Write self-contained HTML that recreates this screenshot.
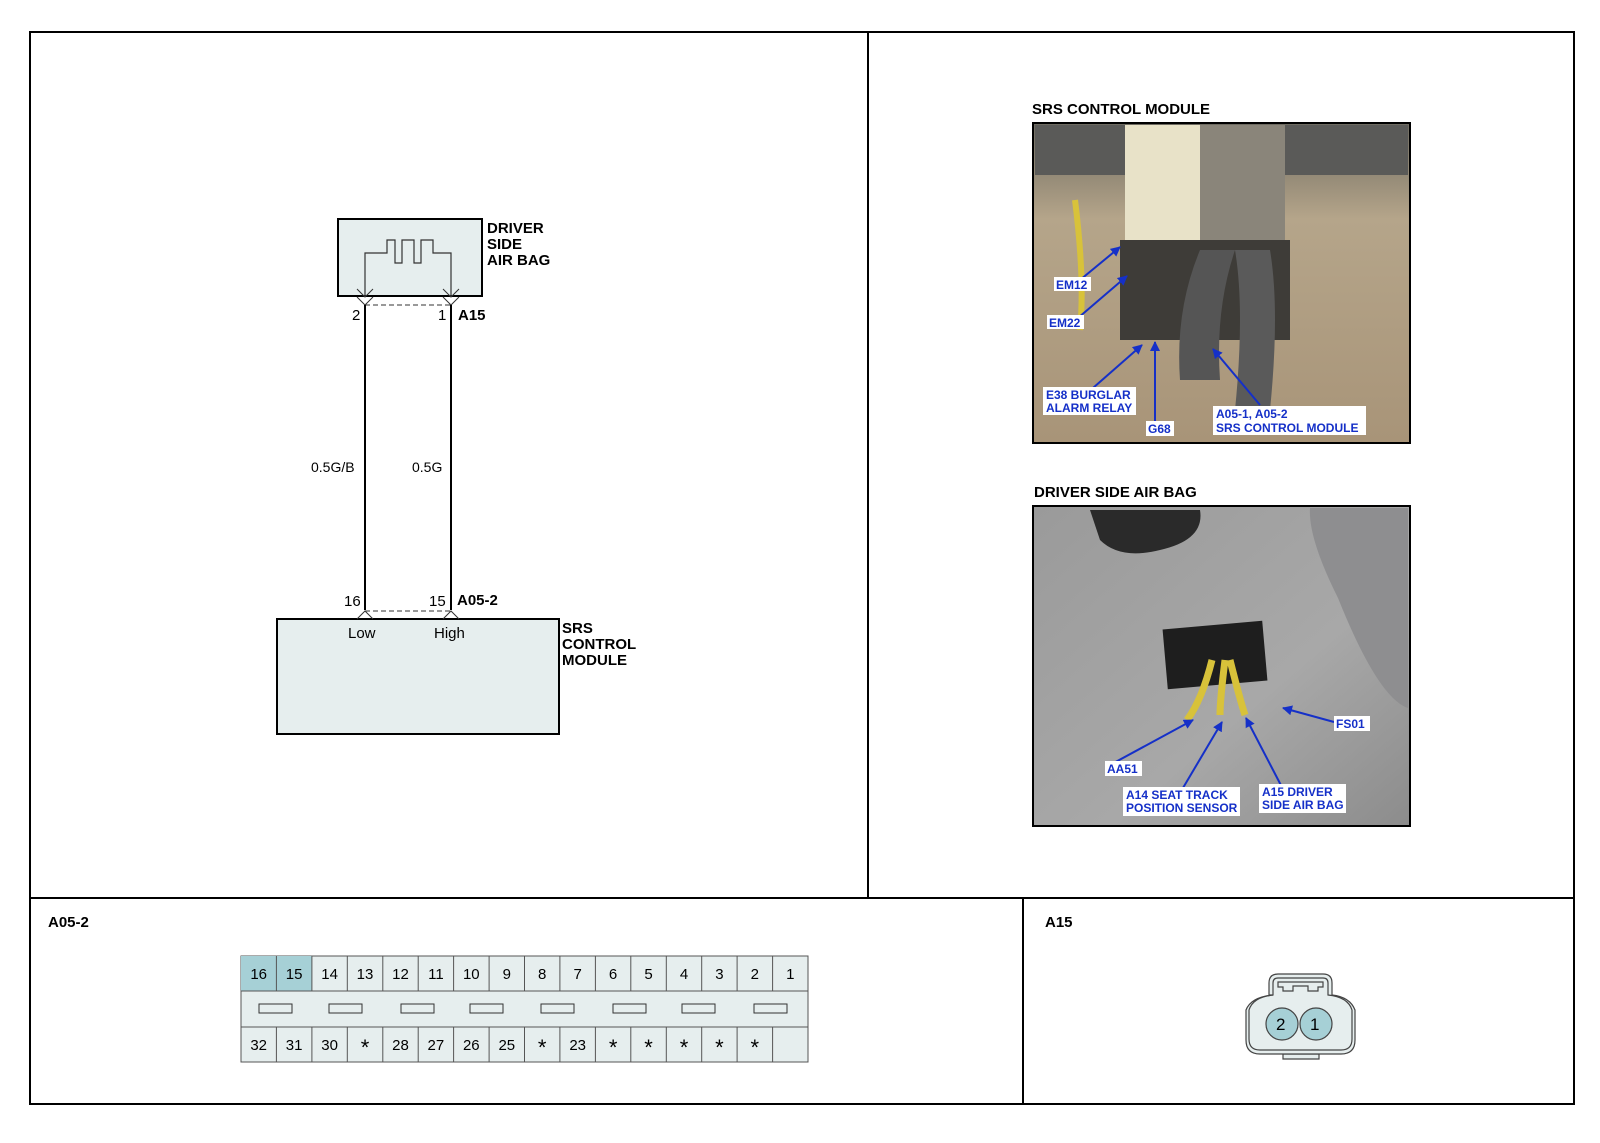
<!DOCTYPE html>
<html><head><meta charset="utf-8"><style>
body{margin:0;background:#fff}
svg{display:block}
text{font-family:"Liberation Sans",Arial,sans-serif}
.b{font-weight:bold}
.pl{font-weight:bold;fill:#1530c8;font-size:12px}
</style></head><body>
<svg width="1600" height="1143" viewBox="0 0 1600 1143" xmlns="http://www.w3.org/2000/svg">
<defs>
<marker id="ar" markerWidth="10" markerHeight="10" refX="9" refY="5" orient="auto" markerUnits="userSpaceOnUse"><path d="M0,0 L10,5 L0,10 z" fill="#1530c8"/></marker>
<linearGradient id="g1" x1="0" y1="0" x2="0" y2="1"><stop offset="0" stop-color="#6d6a60"/><stop offset="0.3" stop-color="#b5a58a"/><stop offset="1" stop-color="#a89478"/></linearGradient>
<linearGradient id="g2" x1="0" y1="0" x2="1" y2="1"><stop offset="0" stop-color="#9a9a9a"/><stop offset="0.6" stop-color="#a8a8a8"/><stop offset="1" stop-color="#8c8c8c"/></linearGradient>
</defs>
<!-- frame -->
<rect x="30" y="32" width="1544" height="1072" fill="none" stroke="#000" stroke-width="2"/>
<line x1="868" y1="32" x2="868" y2="898" stroke="#000" stroke-width="2"/>
<line x1="30" y1="898" x2="1574" y2="898" stroke="#000" stroke-width="2"/>
<line x1="1023" y1="898" x2="1023" y2="1104" stroke="#000" stroke-width="2"/>

<!-- airbag box -->
<rect x="338" y="219" width="144" height="77" fill="#e6eeee" stroke="#000" stroke-width="2"/>
<path d="M365,296 V253 H387 V240 H395 V263 H402 V240 H414 V263 H421 V240 H433 V253 H451 V296" fill="none" stroke="#333" stroke-width="1.2"/>
<path d="M357,289 L365,297 L373,289 M357,297 L365,305 L373,297 M443,289 L451,297 L459,289 M443,297 L451,305 L459,297" fill="none" stroke="#333" stroke-width="1"/>
<line x1="365" y1="305" x2="451" y2="305" stroke="#333" stroke-dasharray="5,3"/>
<text x="487" y="233" class="b" font-size="15">DRIVER</text>
<text x="487" y="249" class="b" font-size="15">SIDE</text>
<text x="487" y="265" class="b" font-size="15">AIR BAG</text>
<text x="352" y="320" font-size="15">2</text>
<text x="438" y="320" font-size="15">1</text>
<text x="458" y="320" class="b" font-size="15">A15</text>
<line x1="365" y1="305" x2="365" y2="610" stroke="#000" stroke-width="2"/>
<line x1="451" y1="305" x2="451" y2="610" stroke="#000" stroke-width="2"/>
<text x="311" y="472" font-size="14">0.5G/B</text>
<text x="412" y="472" font-size="14">0.5G</text>
<text x="344" y="606" font-size="15">16</text>
<text x="429" y="606" font-size="15">15</text>
<text x="457" y="605" class="b" font-size="15">A05-2</text>
<line x1="365" y1="611" x2="451" y2="611" stroke="#333" stroke-dasharray="5,3"/>
<rect x="277" y="619" width="282" height="115" fill="#e6eeee" stroke="#000" stroke-width="2"/>
<path d="M357,619 L365,611 L373,619 M443,619 L451,611 L459,619" fill="none" stroke="#333"/>
<text x="348" y="638" font-size="15">Low</text>
<text x="434" y="638" font-size="15">High</text>
<text x="562" y="633" class="b" font-size="15">SRS</text>
<text x="562" y="649" class="b" font-size="15">CONTROL</text>
<text x="562" y="665" class="b" font-size="15">MODULE</text>

<!-- photo 1 -->
<text x="1032" y="114" class="b" font-size="15">SRS CONTROL MODULE</text>
<rect x="1033" y="123" width="377" height="320" fill="url(#g1)" stroke="#000" stroke-width="2"/>
<rect x="1035" y="125" width="373" height="50" fill="#5a5a58"/>
<rect x="1125" y="125" width="90" height="115" fill="#e8e2c8"/>
<rect x="1200" y="125" width="85" height="115" fill="#8a857a"/>
<rect x="1120" y="240" width="170" height="100" fill="#3e3c38"/>
<path d="M1200,250 q-25,60 -20,130 h40 q-5,-70 15,-130z" fill="#555"/>
<path d="M1235,250 q10,60 0,160 h35 q10,-100 0,-160z" fill="#5a5a5a"/>
<path d="M1075,200 q10,80 5,130" stroke="#d8c23a" stroke-width="6" fill="none"/>
<g stroke="#1530c8" stroke-width="2" marker-end="url(#ar)" fill="none">
<line x1="1080" y1="280" x2="1120" y2="247"/>
<line x1="1078" y1="318" x2="1127" y2="276"/>
<line x1="1085" y1="395" x2="1142" y2="345"/>
<line x1="1155" y1="422" x2="1155" y2="342"/>
<line x1="1260" y1="405" x2="1213" y2="349"/>
</g>
<rect x="1054" y="277" width="37" height="14" fill="#fff"/><text x="1056" y="289" class="pl">EM12</text>
<rect x="1047" y="315" width="37" height="14" fill="#fff"/><text x="1049" y="327" class="pl">EM22</text>
<rect x="1043" y="387" width="93" height="28" fill="#fff"/><text x="1046" y="399" class="pl">E38 BURGLAR</text><text x="1046" y="412" class="pl">ALARM RELAY</text>
<rect x="1146" y="421" width="28" height="15" fill="#fff"/><text x="1148" y="433" class="pl">G68</text>
<rect x="1213" y="406" width="153" height="29" fill="#fff"/><text x="1216" y="418" class="pl">A05-1, A05-2</text><text x="1216" y="432" class="pl">SRS CONTROL MODULE</text>

<!-- photo 2 -->
<text x="1034" y="497" class="b" font-size="15">DRIVER SIDE AIR BAG</text>
<rect x="1033" y="506" width="377" height="320" fill="url(#g2)" stroke="#000" stroke-width="2"/>
<path d="M1310,508 h98 v200 q-30,-10 -70,-110 q-30,-60 -28,-90z" fill="#8e8e90"/>
<path d="M1090,510 h110 q5,30 -40,40 q-40,10 -60,-10z" fill="#2a2a2a"/>
<rect x="1165" y="625" width="100" height="60" fill="#1e1e1e" transform="rotate(-5 1215 655)"/>
<path d="M1212,660 q-10,40 -25,60 M1225,660 q-5,40 -5,55 M1230,660 q10,40 15,55" stroke="#d8c23a" stroke-width="7" fill="none"/>
<g stroke="#1530c8" stroke-width="2" marker-end="url(#ar)" fill="none">
<line x1="1110" y1="765" x2="1193" y2="720"/>
<line x1="1180" y1="793" x2="1222" y2="722"/>
<line x1="1285" y1="793" x2="1246" y2="718"/>
<line x1="1334" y1="722" x2="1283" y2="708"/>
</g>
<rect x="1105" y="761" width="37" height="15" fill="#fff"/><text x="1107" y="773" class="pl">AA51</text>
<rect x="1123" y="787" width="117" height="29" fill="#fff"/><text x="1126" y="799" class="pl">A14 SEAT TRACK</text><text x="1126" y="812" class="pl">POSITION SENSOR</text>
<rect x="1259" y="784" width="87" height="29" fill="#fff"/><text x="1262" y="796" class="pl">A15 DRIVER</text><text x="1262" y="809" class="pl">SIDE AIR BAG</text>
<rect x="1334" y="716" width="36" height="15" fill="#fff"/><text x="1336" y="728" class="pl">FS01</text>

<!-- bottom -->
<text x="48" y="927" class="b" font-size="15">A05-2</text>
<text x="1045" y="927" class="b" font-size="15">A15</text>
<g font-size="15" text-anchor="middle">
<rect x="241" y="956" width="567" height="106" fill="#e6eeee" stroke="#555"/>
<rect x="241" y="956" width="71" height="35" fill="#a6d0d6"/>
<line x1="241" y1="991" x2="808" y2="991" stroke="#555"/>
<line x1="241" y1="1027" x2="808" y2="1027" stroke="#555"/>
<g stroke="#555">
<line x1="276.4" y1="956" x2="276.4" y2="991"/><line x1="311.9" y1="956" x2="311.9" y2="991"/><line x1="347.3" y1="956" x2="347.3" y2="991"/><line x1="382.8" y1="956" x2="382.8" y2="991"/><line x1="418.2" y1="956" x2="418.2" y2="991"/><line x1="453.6" y1="956" x2="453.6" y2="991"/><line x1="489.1" y1="956" x2="489.1" y2="991"/><line x1="524.5" y1="956" x2="524.5" y2="991"/><line x1="559.9" y1="956" x2="559.9" y2="991"/><line x1="595.4" y1="956" x2="595.4" y2="991"/><line x1="630.8" y1="956" x2="630.8" y2="991"/><line x1="666.3" y1="956" x2="666.3" y2="991"/><line x1="701.7" y1="956" x2="701.7" y2="991"/><line x1="737.1" y1="956" x2="737.1" y2="991"/><line x1="772.6" y1="956" x2="772.6" y2="991"/>
<line x1="276.4" y1="1027" x2="276.4" y2="1062"/><line x1="311.9" y1="1027" x2="311.9" y2="1062"/><line x1="347.3" y1="1027" x2="347.3" y2="1062"/><line x1="382.8" y1="1027" x2="382.8" y2="1062"/><line x1="418.2" y1="1027" x2="418.2" y2="1062"/><line x1="453.6" y1="1027" x2="453.6" y2="1062"/><line x1="489.1" y1="1027" x2="489.1" y2="1062"/><line x1="524.5" y1="1027" x2="524.5" y2="1062"/><line x1="559.9" y1="1027" x2="559.9" y2="1062"/><line x1="595.4" y1="1027" x2="595.4" y2="1062"/><line x1="630.8" y1="1027" x2="630.8" y2="1062"/><line x1="666.3" y1="1027" x2="666.3" y2="1062"/><line x1="701.7" y1="1027" x2="701.7" y2="1062"/><line x1="737.1" y1="1027" x2="737.1" y2="1062"/><line x1="772.6" y1="1027" x2="772.6" y2="1062"/>
</g>
<g fill="#e6eeee" stroke="#333">
<rect x="259" y="1004" width="33" height="9"/><rect x="329" y="1004" width="33" height="9"/><rect x="401" y="1004" width="33" height="9"/><rect x="470" y="1004" width="33" height="9"/><rect x="541" y="1004" width="33" height="9"/><rect x="613" y="1004" width="33" height="9"/><rect x="682" y="1004" width="33" height="9"/><rect x="754" y="1004" width="33" height="9"/>
</g>
<text x="258.7" y="979">16</text><text x="294.1" y="979">15</text><text x="329.6" y="979">14</text><text x="365" y="979">13</text><text x="400.5" y="979">12</text><text x="435.9" y="979">11</text><text x="471.3" y="979">10</text><text x="506.8" y="979">9</text><text x="542.2" y="979">8</text><text x="577.7" y="979">7</text><text x="613.1" y="979">6</text><text x="648.5" y="979">5</text><text x="684" y="979">4</text><text x="719.4" y="979">3</text><text x="754.8" y="979">2</text><text x="790.3" y="979">1</text>
<text x="258.7" y="1050">32</text><text x="294.1" y="1050">31</text><text x="329.6" y="1050">30</text><text x="365" y="1055" font-size="22">*</text><text x="400.5" y="1050">28</text><text x="435.9" y="1050">27</text><text x="471.3" y="1050">26</text><text x="506.8" y="1050">25</text><text x="542.2" y="1055" font-size="22">*</text><text x="577.7" y="1050">23</text><text x="613.1" y="1055" font-size="22">*</text><text x="648.5" y="1055" font-size="22">*</text><text x="684" y="1055" font-size="22">*</text><text x="719.4" y="1055" font-size="22">*</text><text x="754.8" y="1055" font-size="22">*</text>
</g>
<!-- A15 connector -->
<g stroke="#444" stroke-width="1.2" fill="#e6eeee">
<path d="M1283,1059 h36 v-5 h-36z"/>
<path d="M1269,995 v-12 q0,-9 9,-9 h45 q9,0 9,9 v12 q18,2 23,15 v30 q0,14 -14,14 h-81 q-14,0 -14,-14 v-30 q5,-13 27,-15z"/>
<path d="M1273,995 v-12 q0,-5 5,-5 h45 q5,0 5,5 v12 q20,2 24,15 v29 q0,11 -11,11 h-81 q-11,0 -11,-11 v-29 q4,-13 24,-15z" fill="none"/>
<path d="M1278,982 h45 v5 h-5 v4 h-10 v-5 h-15 v5 h-10 v-4 h-5z" fill="none"/>
<circle cx="1282" cy="1024" r="16" fill="#a6d0d6"/>
<circle cx="1316" cy="1024" r="16" fill="#a6d0d6"/>
</g>
<text x="1276" y="1030" font-size="17">2</text>
<text x="1310" y="1030" font-size="17">1</text>
</svg>
</body></html>
